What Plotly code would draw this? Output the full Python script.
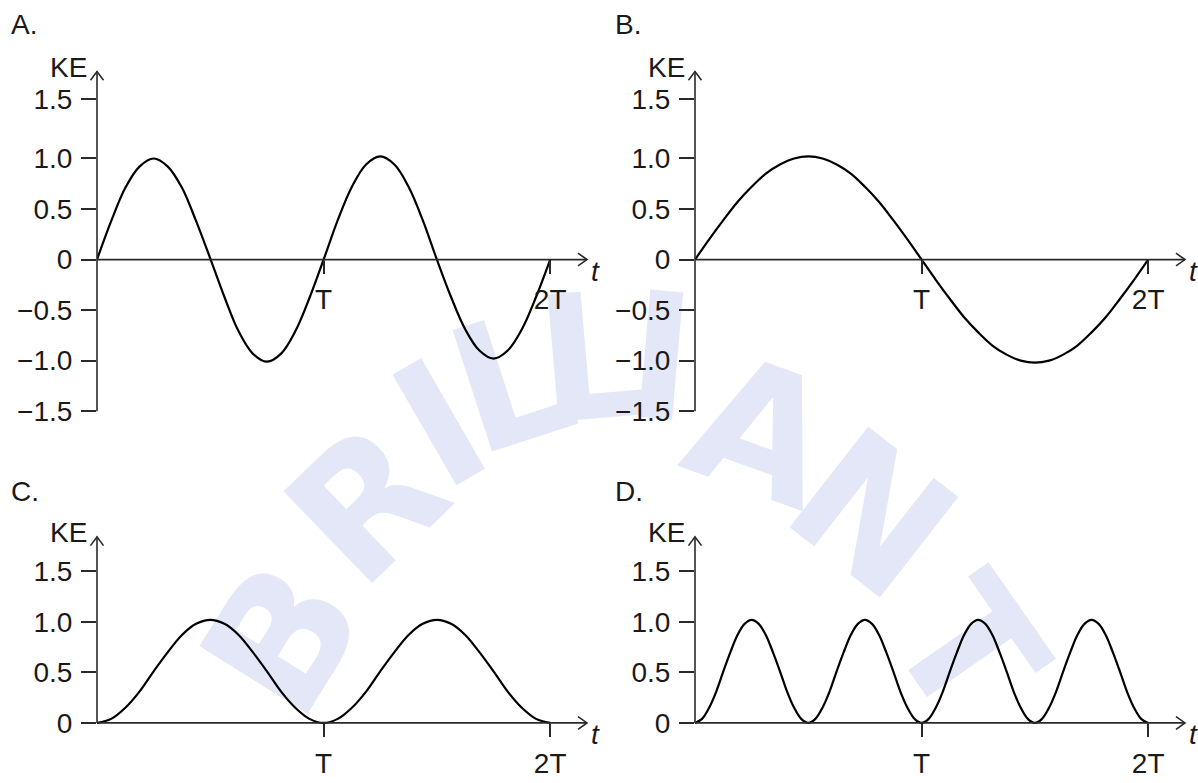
import plotly.graph_objects as go

W, H = 1198, 783

# ---------------- data ----------------
# sample times in units of T
t_grid = [0, 0.0625, 0.125, 0.1875, 0.25, 0.3125, 0.375, 0.4375, 0.5,
          0.5625, 0.625, 0.6875, 0.75, 0.8125, 0.875, 0.9375, 1.0,
          1.0625, 1.125, 1.1875, 1.25, 1.3125, 1.375, 1.4375, 1.5,
          1.5625, 1.625, 1.6875, 1.75, 1.8125, 1.875, 1.9375, 2.0]

t_grid_D = [0, 0.03125, 0.0625, 0.09375, 0.125, 0.15625, 0.1875, 0.21875, 0.25,
            0.28125, 0.3125, 0.34375, 0.375, 0.40625, 0.4375, 0.46875, 0.5,
            0.53125, 0.5625, 0.59375, 0.625, 0.65625, 0.6875, 0.71875, 0.75,
            0.78125, 0.8125, 0.84375, 0.875, 0.90625, 0.9375, 0.96875, 1.0,
            1.03125, 1.0625, 1.09375, 1.125, 1.15625, 1.1875, 1.21875, 1.25,
            1.28125, 1.3125, 1.34375, 1.375, 1.40625, 1.4375, 1.46875, 1.5,
            1.53125, 1.5625, 1.59375, 1.625, 1.65625, 1.6875, 1.71875, 1.75,
            1.78125, 1.8125, 1.84375, 1.875, 1.90625, 1.9375, 1.96875, 2.0]

ke_A = [0, 0.38, 0.71, 0.92, 1.00, 0.92, 0.71, 0.38, 0.01,
        -0.37, -0.71, -0.93, -1.01, -0.93, -0.71, -0.38, 0,
        0.39, 0.72, 0.94, 1.02, 0.94, 0.72, 0.39, 0,
        -0.37, -0.69, -0.90, -0.98, -0.90, -0.69, -0.37, 0]

ke_B = [0, 0.20, 0.39, 0.57, 0.72, 0.85, 0.94, 1.00, 1.02,
        1.00, 0.94, 0.85, 0.72, 0.57, 0.39, 0.20, 0,
        -0.20, -0.39, -0.57, -0.72, -0.85, -0.94, -1.00, -1.02,
        -1.00, -0.94, -0.85, -0.72, -0.57, -0.39, -0.20, 0]

ke_C = [0, 0.04, 0.15, 0.31, 0.51, 0.70, 0.87, 0.98, 1.02,
        0.98, 0.87, 0.70, 0.51, 0.31, 0.15, 0.04, 0,
        0.04, 0.15, 0.31, 0.51, 0.70, 0.87, 0.98, 1.02,
        0.98, 0.87, 0.70, 0.51, 0.31, 0.15, 0.04, 0]

ke_D = [0, 0.04, 0.15, 0.31, 0.51, 0.70, 0.87, 0.98, 1.02,
        0.98, 0.87, 0.70, 0.51, 0.31, 0.15, 0.04, 0,
        0.04, 0.15, 0.31, 0.51, 0.70, 0.87, 0.98, 1.02,
        0.98, 0.87, 0.70, 0.51, 0.31, 0.15, 0.04, 0,
        0.04, 0.15, 0.31, 0.51, 0.70, 0.87, 0.98, 1.02,
        0.98, 0.87, 0.70, 0.51, 0.31, 0.15, 0.04, 0,
        0.04, 0.15, 0.31, 0.51, 0.70, 0.87, 0.98, 1.02,
        0.98, 0.87, 0.70, 0.51, 0.31, 0.15, 0.04, 0]

panel_labels = ["A.", "B.", "C.", "D."]
y_label = "KE"
x_label = "<i>t</i>"
# top panels: the "1.5" tick sits a little higher in the source drawing
y_tickpos_top = [-1.5, -1.0, -0.5, 0, 0.5, 1.0, 1.59]
y_ticktext_top = ["\u22121.5", "\u22121.0", "\u22120.5", "0", "0.5", "1.0", "1.5"]
y_tickpos_bot = [0, 0.5, 1.0, 1.5]
y_ticktext_bot = ["0", "0.5", "1.0", "1.5"]
x_tickvals = [1, 2]
x_ticktext = ["T", "2T"]

# background watermark letters
watermark_letters = ["B", "R", "I", "L", "L", "I", "A", "N", "T"]

# ---------------- layout constants (pixels) ----------------
origins = [(97, 265), (695, 265), (97, 738), (695, 738)]
PX_T = 226.6      # pixels per period T
PX_U = 103.2      # pixels per 1.0 KE
X_LEN = 490       # origin -> x arrow tip
Y_TIP = [192, 192, 190, 190]
Y_MIN = [-1.5, -1.5, -0.03, -0.03]
Y_LINE_BOTTOM = [-1.5, -1.5, 0, 0]
label_pos = [(9, 25), (613, 25), (9, 502), (613, 502)]
# watermark letter placement (centre x, centre y, rotation in degrees)
wm_place = [(272, 645, -58), (358, 505, -44), (434, 422, -30), (507, 377, -18),
            (592, 352, -5), (662, 352, 5), (765, 428, 20), (880, 515, 38),
            (978, 655, 55)]

FONT = "Liberation Sans, Arial, sans-serif"
INK = "#1a1a1a"
AXC = "#2a2a2a"
WM_COLOR = "#e4e7f8"
FS = 28


def px(x):
    return x / W


def py(y):
    return 1 - y / H


series_x = [t_grid, t_grid, t_grid, t_grid_D]
series = [ke_A, ke_B, ke_C, ke_D]
y_ticks = [(y_tickpos_top, y_ticktext_top)] * 2 + [(y_tickpos_bot, y_ticktext_bot)] * 2

fig = go.Figure()
shapes = []
annotations = []
lay = {}

# watermark (drawn beneath everything)
for letter, (cx, cy, rot) in zip(watermark_letters, wm_place):
    shapes.append(dict(type="rect", xref="paper", yref="paper", layer="below",
                       x0=px(cx - 2), x1=px(cx + 2), y0=py(cy + 2), y1=py(cy - 2),
                       line=dict(width=0), fillcolor="rgba(0,0,0,0)",
                       label=dict(text=letter, textangle=rot, textposition="middle center",
                                  padding=0,
                                  font=dict(family="DejaVu Sans", size=175,
                                            color=WM_COLOR, weight="bold"))))

for i, (ox, oy) in enumerate(origins):
    n = i + 1
    xa = "x" if n == 1 else f"x{n}"
    ya = "y" if n == 1 else f"y{n}"
    xk = "xaxis" if n == 1 else f"xaxis{n}"
    yk = "yaxis" if n == 1 else f"yaxis{n}"

    fig.add_trace(go.Scatter(
        x=series_x[i], y=series[i], mode="lines",
        line=dict(color="#000000", width=2.2, shape="spline", smoothing=1.0),
        xaxis=xa, yaxis=ya, showlegend=False, hoverinfo="skip"))

    ymax = Y_TIP[i] / PX_U
    ymin = Y_MIN[i]
    bottom_px = oy - ymin * PX_U
    top_px = oy - Y_TIP[i]

    lay[xk] = dict(domain=[px(ox), px(ox + X_LEN)], range=[0, X_LEN / PX_T],
                   anchor="free", position=py(oy),
                   showline=False, showgrid=False, zeroline=False,
                   ticks="outside", ticklen=13, tickwidth=1.5, tickcolor=AXC,
                   tickmode="array", tickvals=x_tickvals, ticktext=x_ticktext,
                   tickfont=dict(family=FONT, size=FS, color=INK),
                   ticklabelstandoff=2, fixedrange=True)
    tv, tt = y_ticks[i]
    lay[yk] = dict(domain=[py(bottom_px), py(top_px)], range=[ymin, ymax],
                   anchor=xa, showline=False, showgrid=False, zeroline=False,
                   ticks="outside", ticklen=15, tickwidth=1.5, tickcolor=AXC,
                   tickmode="array", tickvals=tv, ticktext=tt,
                   tickfont=dict(family=FONT, size=FS, color=INK),
                   ticklabelstandoff=3, fixedrange=True)

    # axis lines
    ybot_px = oy - Y_LINE_BOTTOM[i] * PX_U
    shapes.append(dict(type="line", xref="paper", yref="paper",
                       x0=px(ox), x1=px(ox), y0=py(ybot_px), y1=py(top_px),
                       line=dict(color=AXC, width=1.6)))
    shapes.append(dict(type="line", xref="paper", yref="paper",
                       x0=px(ox), x1=px(ox + X_LEN), y0=py(oy), y1=py(oy),
                       line=dict(color=AXC, width=1.6)))
    # arrowheads (open chevrons)
    tx = ox + X_LEN
    shapes.append(dict(type="path", xref="paper", yref="paper",
                       path=f"M {px(tx-9)},{py(oy-6.5)} L {px(tx)},{py(oy)} L {px(tx-9)},{py(oy+6.5)}",
                       line=dict(color=AXC, width=1.6)))
    shapes.append(dict(type="path", xref="paper", yref="paper",
                       path=f"M {px(ox-6.5)},{py(top_px+9)} L {px(ox)},{py(top_px)} L {px(ox+6.5)},{py(top_px+9)}",
                       line=dict(color=AXC, width=1.6)))

    # texts
    annotations.append(dict(text=y_label, xref="paper", yref="paper",
                            x=px(ox - 29), y=py(top_px - 4), xanchor="center", yanchor="middle",
                            showarrow=False, font=dict(family=FONT, size=FS, color=INK)))
    annotations.append(dict(text=x_label, xref="paper", yref="paper",
                            x=px(ox + X_LEN + 8), y=py(oy + 12), xanchor="center", yanchor="middle",
                            showarrow=False, font=dict(family=FONT, size=FS, color=INK)))
    lx, ly = label_pos[i]
    annotations.append(dict(text=panel_labels[i], xref="paper", yref="paper",
                            x=px(lx), y=py(ly), xanchor="left", yanchor="middle",
                            showarrow=False, font=dict(family=FONT, size=FS, color=INK)))

fig.update_layout(
    width=W, height=H,
    margin=dict(l=0, r=0, t=0, b=0),
    paper_bgcolor="white", plot_bgcolor="rgba(0,0,0,0)",
    shapes=shapes, annotations=annotations,
    **lay)

fig.write_html("out.html", config={"displayModeBar": False},
               post_script="document.body.style.margin='0';document.body.style.overflow='hidden';")
